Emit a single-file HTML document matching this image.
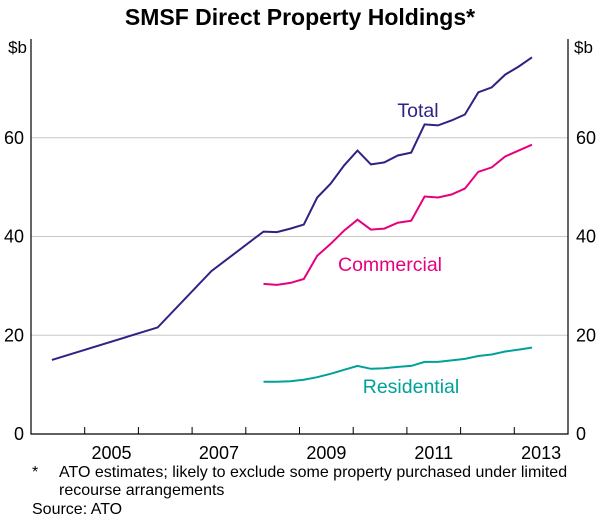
<!DOCTYPE html>
<html><head><meta charset="utf-8"><style>
body{margin:0;background:#fff;font-family:"Liberation Sans",Arial,sans-serif}
svg text{font-family:"Liberation Sans",Arial,sans-serif}
</style></head><body>
<svg id="chart" width="600" height="520">
<text x="300" y="25" text-anchor="middle" font-size="23" font-weight="bold">SMSF Direct Property Holdings*</text>
<g id="grid"></g><g id="series"></g><g id="axes"></g>
<text x="418" y="117" text-anchor="middle" font-size="19.5" fill="#2e2384">Total</text>
<text x="390" y="271" text-anchor="middle" font-size="19.5" fill="#e6007e">Commercial</text>
<text x="411" y="393" text-anchor="middle" font-size="19.5" fill="#00a19a">Residential</text>
<text x="32" y="477" font-size="16">*</text>
<text x="59" y="477" font-size="16">ATO estimates; likely to exclude some property purchased under limited</text>
<text x="59" y="495" font-size="16">recourse arrangements</text>
<text x="32" y="514" font-size="16">Source: ATO</text>
</svg>
<script>
const quarterStart = 2008.33;
const totalEarlyDates = [2004.39, 2006.36, 2007.36];
const totalEarlyValues = [15, 21.6, 33];
const totalValues = [41.0,40.9,41.6,42.4,47.9,50.7,54.4,57.4,54.6,55.0,56.4,57.0,62.7,62.5,63.5,64.7,69.2,70.2,72.8,74.4,76.3];
const commercialValues = [30.4,30.2,30.6,31.4,36.1,38.5,41.2,43.4,41.4,41.6,42.8,43.2,48.1,47.9,48.5,49.7,53.1,54.0,56.2,57.4,58.6];
const residentialValues = [10.6,10.6,10.7,11.0,11.5,12.2,13.0,13.8,13.2,13.3,13.6,13.8,14.6,14.6,14.9,15.2,15.8,16.1,16.7,17.1,17.5];
const yTicks = [0,20,40,60];
const xLabels = [2005,2007,2009,2011,2013];

const X0=31,X1=568,Y0=434,Y1=39;
const xs=t=>X0+(t-2004)/(2014-2004)*(X1-X0);
const ys=v=>Y0-v/80*(Y0-Y1);
const NS="http://www.w3.org/2000/svg";
function mk(tag,attrs,parent){const e=document.createElementNS(NS,tag);for(const k in attrs)e.setAttribute(k,attrs[k]);document.getElementById(parent).appendChild(e);return e;}

yTicks.forEach(v=>{
  if(v>0){const g=mk('line',{x1:X0,x2:X1,y1:ys(v),y2:ys(v),stroke:'#c8c8c8','stroke-width':1},'grid');
  
  }
  const l=mk('text',{x:X0-7,y:ys(v)+6,'text-anchor':'end','font-size':18},'axes');l.textContent=v;
  
  
  const r=mk('text',{x:X1+8,y:ys(v)+6,'font-size':18},'axes');r.textContent=v;
  
  
});
const ul=mk('text',{x:X0-4,y:53,'text-anchor':'end','font-size':17},'axes');ul.textContent='$b';


const ur=mk('text',{x:X1+6,y:53,'font-size':17},'axes');ur.textContent='$b';


const frame=mk('path',{d:`M${X0},${Y1}V${Y0}H${X1}V${Y1}`,fill:'none',stroke:'#000','stroke-width':1.2},'axes');


for(let y=2005;y<=2013;y++){const t=mk('line',{x1:xs(y),x2:xs(y),y1:Y0,y2:Y0-7,stroke:'#000'},'axes');
  
  }
xLabels.forEach(y=>{const t=mk('text',{x:xs(y+0.5),y:Y0+25,'text-anchor':'middle','font-size':18},'axes');t.textContent=y;
  
  });

function line(dates,vals,color,name){
  const d=dates.map((t,i)=>(i?'L':'M')+xs(t).toFixed(1)+','+ys(vals[i]).toFixed(1)).join('');
  const p=mk('path',{d:d,fill:'none',stroke:color,'stroke-width':2},'series');
  
  
}
const qd=totalValues.map((_,i)=>quarterStart+i*0.25);
line(totalEarlyDates.concat(qd),totalEarlyValues.concat(totalValues),'#2e2384','total-line');
line(commercialValues.map((_,i)=>quarterStart+i*0.25),commercialValues,'#e6007e','commercial-line');
line(residentialValues.map((_,i)=>quarterStart+i*0.25),residentialValues,'#00a19a','residential-line');
</script>
</body></html>
